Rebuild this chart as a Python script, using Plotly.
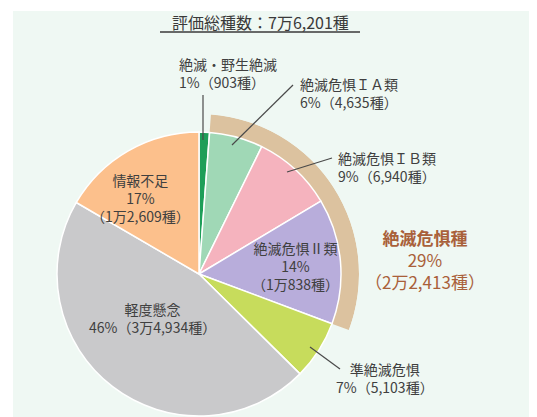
"""レッドリスト評価結果の円グラフ（評価総種数と絶滅危惧種の内訳）。"""

import plotly.graph_objects as go

# ページ余白（body の既定 margin 8px）を差し引いた図のサイズ
OFF = 8
W, H = 537 - OFF, 417 - OFF

# --- データ ---
categories = ["絶滅・野生絶滅", "絶滅危惧ＩＡ類", "絶滅危惧ＩＢ類", "絶滅危惧Ⅱ類",
              "準絶滅危惧", "軽度懸念", "情報不足"]
species = [903, 4635, 6940, 10838, 5103, 34934, 12609]
total_species = 76201
threatened = ["絶滅危惧ＩＡ類", "絶滅危惧ＩＢ類", "絶滅危惧Ⅱ類"]
threatened_label = "絶滅危惧種"

# --- スタイル ---
COLORS = ["#1e9e58", "#a0d8b6", "#f5b3be", "#b8addb", "#c7dc5c", "#c9c9cb", "#fcc08c"]
RING = "#dcc29f"
BG = "#eff8f3"
TXT = "#404040"
BROWN = "#a9603a"
FONT = "Noto Sans CJK JP, Noto Sans, sans-serif"

# 円の中心と半径（ページ上の px）
CX, CY = 199, 274
R_PIE, R_RING = 142, 160


def fx(px):
    return (px - OFF) / W


def fy(py):
    return 1 - (py - OFF) / H


def man(n):
    """日本式の数値表記（1万2,609 など）。"""
    if n >= 10000:
        return f"{n // 10000}万{n % 10000:,}"
    return f"{n:,}"


def pct(n):
    return round(n / total_species * 100)


fig = go.Figure()

fig.add_trace(go.Pie(
    labels=categories, values=species, sort=False, direction="clockwise", rotation=0,
    marker=dict(colors=COLORS, line=dict(color="white", width=1.5)),
    textinfo="none", showlegend=False,
    domain=dict(x=[fx(CX - R_PIE), fx(CX + R_PIE)], y=[fy(CY + R_PIE), fy(CY - R_PIE)]),
))

# 絶滅危惧種の外周リング
shown = sum(species)
i0 = categories.index(threatened[0])
i1 = categories.index(threatened[-1])
start = sum(species[:i0]) / shown * 360
end = sum(species[:i1 + 1]) / shown * 360
threatened_total = sum(species[i0:i1 + 1])

fig.add_trace(go.Barpolar(
    r=[R_RING - R_PIE + 1], base=[R_PIE - 1], theta=[(start + end) / 2], width=[end - start],
    marker=dict(color=RING, line=dict(width=0)), showlegend=False,
    hovertemplate=f"{threatened_label}: {threatened_total:,}種<extra></extra>",
))
fig.update_layout(polar=dict(
    sector=[-30, 90], hole=0, bgcolor="rgba(0,0,0,0)",
    domain=dict(x=[fx(CX), fx(CX + R_RING)], y=[fy(CY + 0.5 * R_RING), fy(CY - R_RING)]),
    radialaxis=dict(range=[0, R_RING], visible=False),
    angularaxis=dict(rotation=90, direction="clockwise", visible=False),
))

# --- ラベル ---
# (x, y, xanchor, 3行表示)
label_pos = [
    (177, 73, "left", False),
    (298, 93, "left", False),
    (336, 167, "left", False),
    (295, 266, "center", True),
    (385, 378, "center", False),
    (152, 318, "center", False),
    (140, 198, "center", True),
]
for name, n, (x, y, anchor, three) in zip(categories, species, label_pos):
    sep = "<br>" if three else ""
    text = f"{name}<br>{pct(n)}%{sep}（{man(n)}種）"
    fig.add_annotation(x=fx(x), y=fy(y), xref="paper", yref="paper", text=text,
                       showarrow=False, xanchor=anchor, yanchor="middle", align=anchor,
                       font=dict(size=14, color=TXT, family=FONT))

fig.add_annotation(
    x=fx(425), y=fy(260), xref="paper", yref="paper", showarrow=False,
    xanchor="center", yanchor="middle", align="center",
    text=f"<b>{threatened_label}</b><br>{pct(threatened_total)}%<br>（{man(threatened_total)}種）",
    font=dict(size=17, color=BROWN, family=FONT),
)

# 引き出し線
leaders = [((203, 95), (203, 140)), ((293, 85), (232, 145)),
           ((332, 158), (287, 172)), ((310, 347), (340, 369))]
for (x0, y0), (x1, y1) in leaders:
    fig.add_shape(type="line", xref="paper", yref="paper",
                  x0=fx(x0), y0=fy(y0), x1=fx(x1), y1=fy(y1),
                  line=dict(color="#4a4a4a", width=1.2))

# タイトル
fig.add_annotation(x=fx(260), y=fy(22), xref="paper", yref="paper", showarrow=False,
                   xanchor="center", yanchor="middle",
                   text=f"評価総種数：{man(total_species)}種",
                   font=dict(size=16, color="#3a3a3a", family=FONT))
fig.add_shape(type="line", xref="paper", yref="paper",
              x0=fx(160), x1=fx(360), y0=fy(32), y1=fy(32),
              line=dict(color="#3a3a3a", width=1.5))

# 背景パネル
fig.add_shape(type="rect", xref="paper", yref="paper", layer="below",
              x0=fx(13), x1=1, y0=0, y1=fy(11), fillcolor=BG, line=dict(width=0))

fig.update_layout(
    width=W, height=H, margin=dict(l=0, r=0, t=0, b=0),
    paper_bgcolor="white", plot_bgcolor="white",
    font=dict(family=FONT),
)

fig.write_html("out.html")
